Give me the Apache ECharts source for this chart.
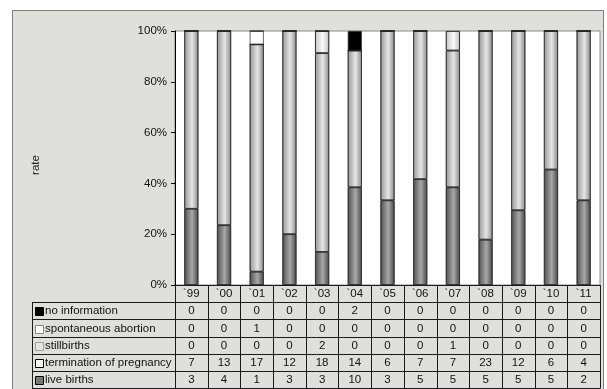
<!DOCTYPE html>
<html>
<head>
<meta charset="utf-8">
<script src="https://cdn.jsdelivr.net/npm/echarts@6/dist/echarts.min.js"></script>
<style>
  html, body { margin: 0; padding: 0; background: #fff; }
</style>
</head>
<body>
<div id="main" style="width: 607px; height: 389px;"></div>
<script>
const years = ['`99', '`00', '`01', '`02', '`03', '`04', '`05', '`06', '`07', '`08', '`09', '`10', '`11'];
const noInformation = [0, 0, 0, 0, 0, 2, 0, 0, 0, 0, 0, 0, 0];
const spontaneousAbortion = [0, 0, 1, 0, 0, 0, 0, 0, 0, 0, 0, 0, 0];
const stillbirths = [0, 0, 0, 0, 2, 0, 0, 0, 1, 0, 0, 0, 0];
const termination = [7, 13, 17, 12, 18, 14, 6, 7, 7, 23, 12, 6, 4];
const liveBirths = [3, 4, 1, 3, 3, 10, 3, 5, 5, 5, 5, 5, 2];
const yTicks = ['0%', '20%', '40%', '60%', '80%', '100%'];

const FONT = 'Liberation Sans';
const TFONT = '11.5px "' + FONT + '"';

// rows as they appear in the table (top to bottom)
const rows = [
    { name: 'no information', data: noInformation, key: '#000000', keyBorder: '#000000',
      fill: '#000000' },
    { name: 'spontaneous abortion', data: spontaneousAbortion, key: '#ffffff', keyBorder: '#888888',
      fill: '#ffffff' },
    { name: 'stillbirths', data: stillbirths, key: '#e4e4e4', keyBorder: '#a0a0a0',
      fill: grad('#c4c4c4', '#fafafa', '#bdbdbd') },
    { name: 'termination of pregnancy', data: termination, key: '#f4f4f4', keyBorder: '#000000',
      fill: grad('#969696', '#e6e6e6', '#8a8a8a') },
    { name: 'live births', data: liveBirths, key: '#777777', keyBorder: '#000000',
      fill: grad('#505050', '#a8a8a8', '#474747') }
];

function grad(edge, mid, edge2) {
    return new echarts.graphic.LinearGradient(0, 0, 1, 0, [
        { offset: 0, color: edge },
        { offset: 0.55, color: mid },
        { offset: 1, color: edge2 }
    ]);
}

const totals = years.map((_, i) => rows.reduce((s, r) => s + r.data[i], 0));

const chart = echarts.init(document.getElementById('main'));

const grid = { left: 175, right: 7, top: 31, bottom: 104 };

// stack order bottom -> top
const series = rows.slice().reverse().map(r => ({
    name: r.name,
    type: 'bar',
    stack: 'total',
    barWidth: 14,
    data: r.data.map((v, i) => v / totals[i] * 100),
    itemStyle: {
        color: r.fill,
        borderColor: '#2a2a2a',
        borderWidth: 0.7
    },
    emphasis: { disabled: true }
}));

let option = {
    backgroundColor: '#ffffff',
    animation: false,
    textStyle: { fontFamily: FONT },
    grid: {
        left: grid.left, right: grid.right, top: grid.top, bottom: grid.bottom,
        show: true,
        backgroundColor: '#ffffff',
        borderColor: '#8a8a8a',
        borderWidth: 1
    },
    xAxis: {
        type: 'category',
        data: years,
        axisTick: { show: false },
        axisLabel: { show: false },
        axisLine: { lineStyle: { color: '#000', width: 1 } }
    },
    yAxis: {
        type: 'value',
        min: 0,
        max: 100,
        interval: 20,
        axisLine: { show: true, lineStyle: { color: '#000', width: 1 } },
        axisTick: { show: true, length: 4, lineStyle: { color: '#000' } },
        axisLabel: {
            color: '#111', fontSize: 11.5, fontFamily: FONT, margin: 8,
            formatter: v => yTicks[Math.round(v / 20)]
        },
        splitLine: { show: false }
    },
    series: series
};
chart.setOption(option);

// frame, axis title and table under the plot, aligned with the category axis
const els = [];
els.push({
    type: 'rect', z: -10, silent: true,
    shape: { x: 12.5, y: 10.5, width: 591, height: 400 },
    style: { fill: '#dfdfdb', stroke: '#7f7f78', lineWidth: 1 }
});
els.push({
    type: 'text', z: 11, silent: true,
    x: 36, y: 165, rotation: Math.PI / 2,
    style: {
        text: 'rate', x: 0, y: 0, align: 'center', verticalAlign: 'middle',
        font: TFONT, fill: '#222'
    }
});

const c0 = chart.convertToPixel({ xAxisIndex: 0 }, 0);
const c1 = chart.convertToPixel({ xAxisIndex: 0 }, 1);
const step = c1 - c0;
const tableTop = 389 - grid.bottom;
const rowH = 17.2;
const labelLeft = 32;
const lineStyle = { stroke: '#1a1a1a', lineWidth: 1 };
const tableBottom = tableTop + rowH * (rows.length + 1);

function hLine(x1, x2, y) {
    els.push({ type: 'line', silent: true, shape: { x1: x1, y1: y, x2: x2, y2: y }, style: lineStyle, z: 10 });
}
function vLine(x, y1, y2) {
    els.push({ type: 'line', silent: true, shape: { x1: x, y1: y1, x2: x, y2: y2 }, style: lineStyle, z: 10 });
}

const colEdges = [];
for (let i = 0; i <= years.length; i++) {
    colEdges.push(Math.round(c0 - step / 2 + i * step) + 0.5);
}

// horizontal lines
hLine(colEdges[0], colEdges[years.length], Math.round(tableTop) + 0.5);
for (let r = 1; r <= rows.length + 1; r++) {
    hLine(labelLeft, colEdges[years.length], Math.round(tableTop + r * rowH) + 0.5);
}
// vertical lines
vLine(labelLeft + 0.5, tableTop + rowH, tableBottom);
colEdges.forEach(x => vLine(x, tableTop, tableBottom));

// year headers
years.forEach((y, i) => {
    els.push({
        type: 'text', z: 11, silent: true,
        style: {
            text: y, x: c0 + i * step, y: tableTop + rowH / 2 + 0.5,
            align: 'center', verticalAlign: 'middle',
            font: TFONT, fill: '#111'
        }
    });
});

// data rows
rows.forEach((r, ri) => {
    const yMid = tableTop + (ri + 1) * rowH + rowH / 2 + 0.5;
    els.push({
        type: 'rect', z: 11, silent: true,
        shape: { x: labelLeft + 3.5, y: Math.round(yMid - 4) + 0.5, width: 8, height: 8 },
        style: { fill: r.key, stroke: r.keyBorder, lineWidth: 1 }
    });
    els.push({
        type: 'text', z: 11, silent: true,
        style: {
            text: r.name, x: labelLeft + 13, y: yMid,
            align: 'left', verticalAlign: 'middle',
            font: TFONT, fill: '#111'
        }
    });
    r.data.forEach((v, i) => {
        els.push({
            type: 'text', z: 11, silent: true,
            style: {
                text: String(v), x: c0 + i * step, y: yMid,
                align: 'center', verticalAlign: 'middle',
                font: TFONT, fill: '#111'
            }
        });
    });
});

chart.setOption({ graphic: { elements: els } });
</script>
</body>
</html>
